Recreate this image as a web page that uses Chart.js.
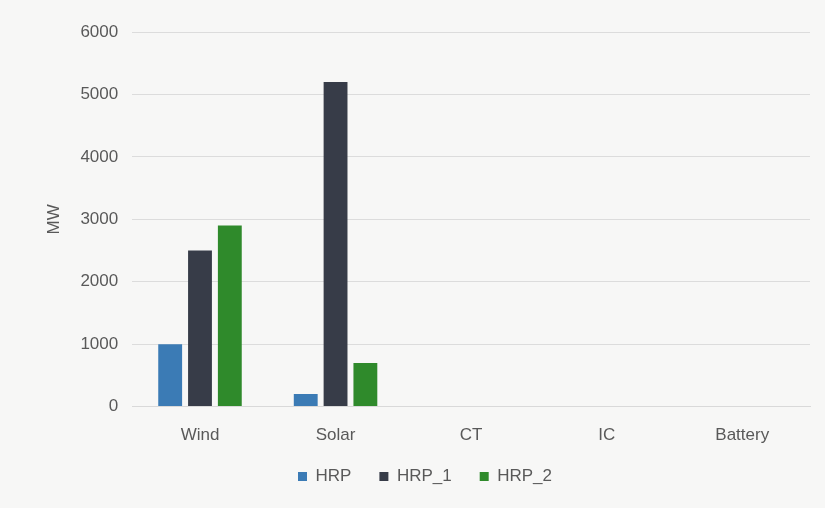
<!DOCTYPE html>
<html>
<head>
<meta charset="utf-8">
<script src="https://cdn.jsdelivr.net/npm/chart.js@4"></script>
<style>
  html, body { margin: 0; padding: 0; background: #f7f7f6; }
  #wrap { width: 825px; height: 508px; position: relative; }
</style>
</head>
<body>
<div id="wrap"><canvas id="mwChart"></canvas></div>
<script>
// chart data
var categories = ['Wind', 'Solar', 'CT', 'IC', 'Battery'];
var hrp   = [1000, 200, 0, 0, 0];
var hrp1  = [2500, 5200, 0, 0, 0];
var hrp2  = [2900, 700, 0, 0, 0];
var yTicks = [0, 1000, 2000, 3000, 4000, 5000, 6000];

Chart.defaults.font.family = '"Liberation Sans", Arial, sans-serif';
Chart.defaults.color = '#595959';

// wider gaps between legend items need a big padding, so pull the legend's top back up
// (bottom stays, so the legend's clip box still holds the text)
var legendNudge = {
    id: 'legendNudge',
    afterLayout: function(chart) {
        if (chart.legend) {
            chart.legend.top -= 17;
        }
    }
};

var ctx = document.getElementById('mwChart').getContext('2d');
var chart = new Chart(ctx, {
    type: 'bar',
    data: {
        labels: categories,
        datasets: [
            { label: 'HRP', data: hrp, backgroundColor: '#3b7bb5' },
            { label: 'HRP_1', data: hrp1, backgroundColor: '#373c48' },
            { label: 'HRP_2', data: hrp2, backgroundColor: '#2f8a2b' }
        ]
    },
    options: {
        responsive: true,
        maintainAspectRatio: false,
        animation: false,
        layout: { padding: { top: 32, right: 15, bottom: 12, left: 40 } },
        datasets: {
            bar: { categoryPercentage: 0.66, barPercentage: 0.8 }
        },
        scales: {
            x: {
                grid: { display: false },
                border: { color: '#d9d9d9' },
                ticks: { font: { size: 17 }, padding: 11 }
            },
            y: {
                min: 0,
                max: 6000,
                afterBuildTicks: function(axis) {
                    axis.ticks = yTicks.map(function(v){ return { value: v }; });
                },
                grid: { color: '#dcdcdc', drawTicks: false },
                border: { display: false },
                ticks: {
                    font: { size: 17 }, padding: 14,
                    callback: function(v) { return String(v); }
                },
                title: { display: true, text: 'MW', font: { size: 17 }, padding: { bottom: 2 } }
            }
        },
        plugins: {
            legend: {
                position: 'bottom',
                maxHeight: 39,
                labels: { boxWidth: 9, boxHeight: 9, font: { size: 17 }, padding: 28 }
            },
            tooltip: { enabled: false }
        }
    },
    plugins: [legendNudge]
});
</script>
</body>
</html>
